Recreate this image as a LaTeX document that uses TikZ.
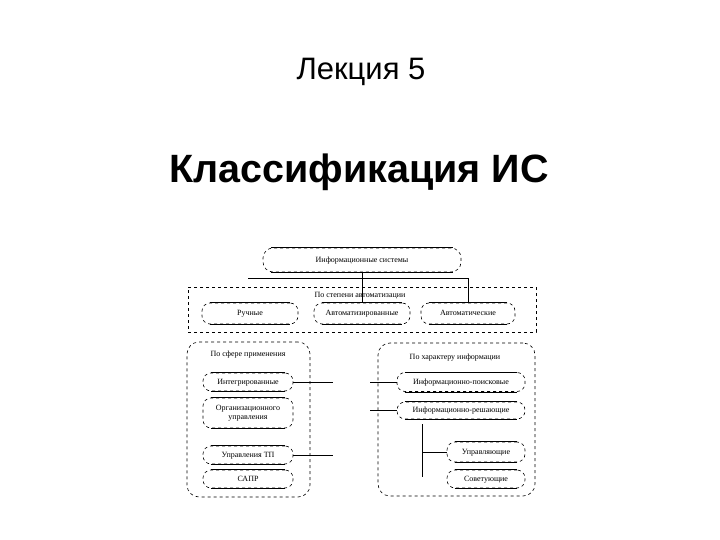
\documentclass[tikz,border=0pt]{standalone}
\usepackage{fontspec}
\setmainfont{Liberation Serif}
\newfontfamily\titlefont{Liberation Sans}
\begin{document}
\begin{tikzpicture}[x=1pt,y=-1pt,
  line width=0.6pt,
  pill/.style={draw, dashed, rectangle, rounded corners=8pt, inner sep=0pt,
    font=\fontsize{8}{9}\selectfont, align=center},
  onel/.style={text height=5.6pt, text depth=1.6pt},
  group/.style={draw, dashed, rectangle, rounded corners=12pt, inner sep=0pt},
  outerbox/.style={draw, dashed, rectangle, inner sep=0pt},
  lbl/.style={font=\fontsize{8}{9}\selectfont, inner sep=1pt},
  conn/.style={solid, line width=0.6pt}]
\useasboundingbox (0,0) rectangle (720,540);
\newcommand\pillsolid[1]{\draw[solid] ([xshift=8pt]#1.north west) -- ([xshift=-8pt]#1.north east)
  ([xshift=8pt]#1.south west) -- ([xshift=-8pt]#1.south east);}

% titles
\node[font=\titlefont\fontsize{31}{35}\selectfont] (lec) at (361,72) {Лекция 5};
\node[font=\titlefont\bfseries\fontsize{39.5}{44}\selectfont] (ttl) at (359,172) {Классификация ИС};

% top node
\node[pill, onel, minimum width=198pt, minimum height=24pt, rounded corners=10pt] (is) at (362,260) {Информационные системы};
\pillsolid{is}

% automation group
\node[outerbox, minimum width=348pt, minimum height=45pt] (g1) at (362,309.5) {};
\node[lbl] (g1l) at (360,296) {По степени автоматизации};
\node[pill, onel, minimum width=96pt, minimum height=21pt] (man) at (250,313.5) {Ручные};
\node[pill, onel, minimum width=96pt, minimum height=21pt] (autz) at (362,313.5) {Автоматизированные};
\node[pill, onel, minimum width=94pt, minimum height=21pt] (aut) at (468,313.5) {Автоматические};
\pillsolid{man}\pillsolid{autz}\pillsolid{aut}

\coordinate (hl) at (248,278);
\draw[conn] (hl) -- (aut.north |- hl) -- (aut.north);
\draw[conn] (is.south) -- (autz.north);

% left group
\node[group, minimum width=123pt, minimum height=155pt] (g2) at (248.5,419.5) {};
\node[lbl] (g2l) at (248,355) {По сфере применения};
\node[pill, onel, minimum width=90pt, minimum height=18pt] (int) at (248,382) {Интегрированные};
\node[pill, minimum width=90pt, minimum height=30pt] (org) at (248,413) {Организационного\\управления};
\node[pill, onel, minimum width=90pt, minimum height=18pt] (tp) at (248,455) {Управления ТП};
\node[pill, onel, minimum width=90pt, minimum height=18pt] (sapr) at (248,479) {САПР};
\pillsolid{int}\pillsolid{org}\pillsolid{tp}\pillsolid{sapr}
\coordinate (li1) at (333,382);
\coordinate (li2) at (333,455);
\draw[conn] (int.east) -- (li1);
\draw[conn] (tp.east) -- (li2);

% right group
\node[group, minimum width=157pt, minimum height=153pt] (g3) at (456.5,419.5) {};
\node[lbl] (g3l) at (455,358) {По характеру информации};
\node[pill, onel, minimum width=128pt, minimum height=19pt] (ips) at (461,382) {Информационно-поисковые};
\node[pill, onel, minimum width=128pt, minimum height=17pt] (irs) at (461,410.5) {Информационно-решающие};
\node[pill, onel, minimum width=78pt, minimum height=20pt] (upr) at (486,452) {Управляющие};
\node[pill, onel, minimum width=78pt, minimum height=18pt] (sov) at (486,479) {Советующие};
\pillsolid{ips}\pillsolid{irs}\pillsolid{upr}\pillsolid{sov}
\coordinate (ri1) at (370,382);
\coordinate (ri2) at (370,410.5);
\draw[conn] (ri1) -- (ips.west);
\draw[conn] (ri2) -- (irs.west);
\coordinate (v1) at (422,424);
\coordinate (v2) at (422,477);
\draw[conn] (v1) -- (v2);
\draw[conn] (v1 |- upr.west) -- (upr.west);
\end{tikzpicture}
\end{document}
